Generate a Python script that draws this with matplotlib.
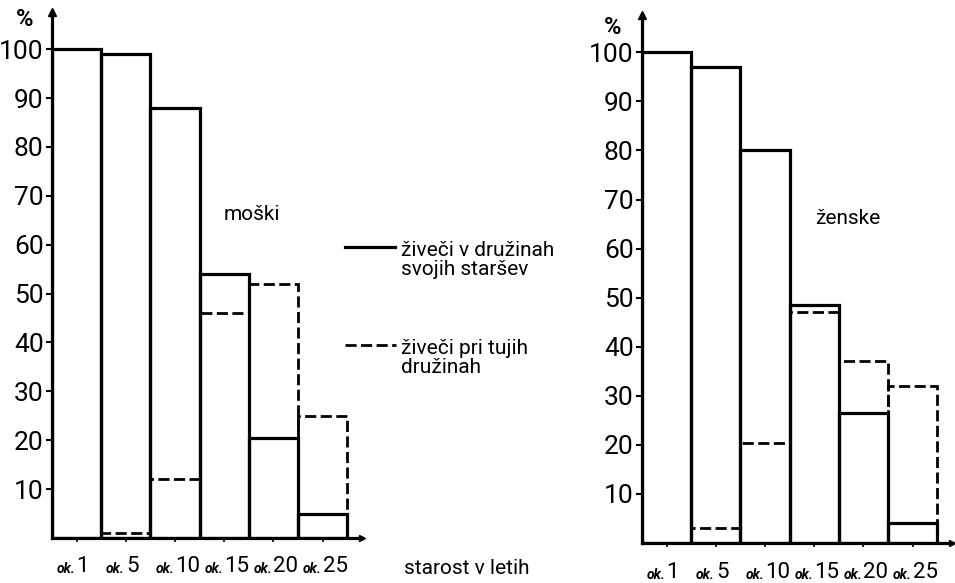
import matplotlib
matplotlib.use("Agg")
import matplotlib.pyplot as plt
from matplotlib.lines import Line2D

plt.rcParams['font.family'] = ['Roboto', 'DejaVu Sans']

# ---- data ----
categories = ["ok.1", "ok.5", "ok.10", "ok.15", "ok.20", "ok.25"]
tick_prefix = "ok."
tick_numbers = ["1", "5", "10", "15", "20", "25"]
yticks = [10, 20, 30, 40, 50, 60, 70, 80, 90, 100]

men_own = [100, 99, 88, 54, 20.5, 5]
men_foreign = [0, 1, 12, 46, 52, 25]
women_own = [100, 97, 80, 48.5, 26.5, 4]
women_foreign = [0, 3, 20.4, 47, 37, 32]

W, H = 955, 583
fig = plt.figure(figsize=(W / 100, H / 100), dpi=100)
fig.patch.set_facecolor('white')

DASH = (0, (4, 1.6))

def fx(px):
    return px / W

def fy(py):
    return 1 - py / H

def panel(rect, own, foreign, title, title_xy, pct_xy, tick_y):
    ax = fig.add_axes(rect)
    ax.set_facecolor('none')
    x = list(range(len(categories)))
    # dashed series underneath
    ax.bar(x, foreign, width=1, align='edge', fill=False, edgecolor='black',
           linestyle=DASH, linewidth=2.0, zorder=2)
    ax.bar(x, own, width=1, align='edge', fill=False, edgecolor='black',
           linewidth=2.3, zorder=3)
    ax.set_xlim(0, 6.3)
    ax.set_ylim(0, 107.6)
    for s in ['top', 'right']:
        ax.spines[s].set_visible(False)
    for s in ['left', 'bottom']:
        ax.spines[s].set_linewidth(2.3)
        ax.spines[s].set_zorder(5)
    ax.set_yticks(yticks)
    ax.set_yticklabels([str(v) for v in yticks], fontsize=19)
    ax.tick_params(axis='y', length=4, width=1.5, pad=2, direction='out')
    ax.set_xticks([i + 0.5 for i in x])
    ax.set_xticklabels([''] * len(x))
    ax.tick_params(axis='x', length=3, width=1.2, direction='out')
    # arrows
    ax.plot([0], [1], marker='^', color='black', markersize=6,
            transform=ax.transAxes, clip_on=False, zorder=6)
    ax.plot([1], [0], marker='>', color='black', markersize=5,
            transform=ax.transAxes, clip_on=False, zorder=6)
    # x tick labels: "ok." small + number large
    for i, num in enumerate(tick_numbers):
        ax.annotate(tick_prefix, xy=(i + 0.5, 0), xycoords=('data', 'axes fraction'),
                    xytext=(-1, -tick_y - 3), textcoords='offset pixels',
                    ha='right', va='center', fontsize=10, fontweight='bold',
                    fontstyle='italic')
        ax.annotate(num, xy=(i + 0.5, 0), xycoords=('data', 'axes fraction'),
                    xytext=(0, -tick_y), textcoords='offset pixels',
                    ha='left', va='center', fontsize=16)
    fig.text(fx(title_xy[0]), fy(title_xy[1]), title, fontsize=15,
             ha='center', va='center')
    fig.text(fx(pct_xy[0]), fy(pct_xy[1]), '%', fontsize=17, fontweight='bold',
             ha='center', va='center')
    return ax

panel([fx(52), fy(538), fx(362) - fx(52), fy(12) - fy(538)],
      men_own, men_foreign, 'moški', (252, 214), (25, 19), 28)
panel([fx(642), fy(543), fx(952) - fx(642), fy(15) - fy(543)],
      women_own, women_foreign, 'ženske', (848, 218), (613, 27), 29)

# legend (drawn manually)
fig.add_artist(Line2D([fx(345), fx(395)], [fy(247), fy(247)], color='black',
                      linewidth=2.3, transform=fig.transFigure))
fig.add_artist(Line2D([fx(345), fx(396)], [fy(345), fy(345)], color='black',
                      linewidth=2.0, linestyle=DASH,
                      transform=fig.transFigure))
fig.text(fx(401), fy(260), 'živeči v družinah\nsvojih staršev', fontsize=15,
         ha='left', va='center', linespacing=1.0)
fig.text(fx(401), fy(358), 'živeči pri tujih\ndružinah', fontsize=15,
         ha='left', va='center', linespacing=1.0)

fig.text(fx(467), fy(568), 'starost v letih', fontsize=15, ha='center', va='center')

fig.savefig('out.png', dpi=100, facecolor='white')
